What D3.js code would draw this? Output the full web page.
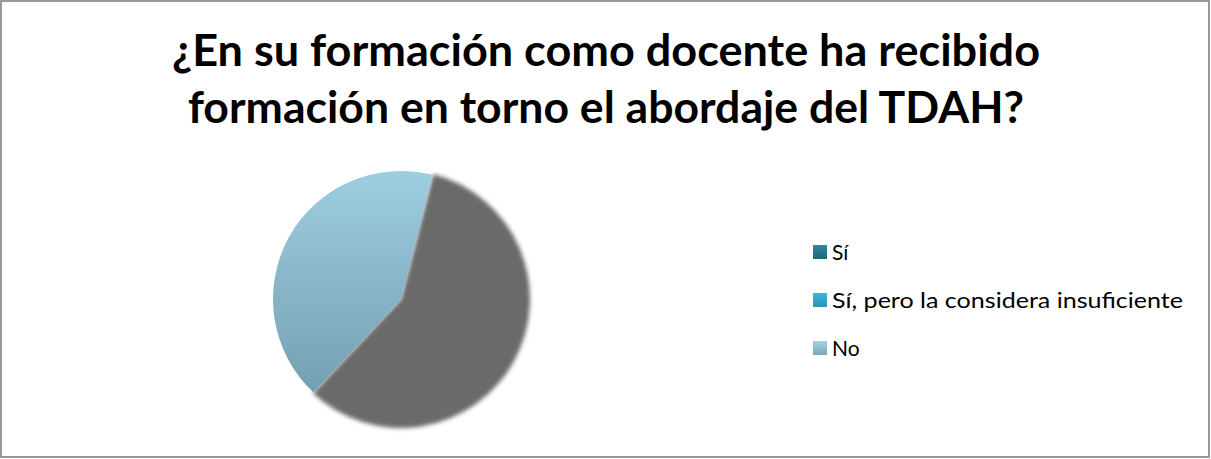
<!DOCTYPE html>
<html>
<head>
<meta charset="utf-8"/>
<title>TDAH formación</title>
<script src="https://d3js.org/d3.v7.min.js"></script>
<style>
  body { margin: 0; background: #fff; }
  text { font-family: Lato, "Open Sans", sans-serif; fill: #000; }
</style>
</head>
<body>
<svg width="1211" height="459"></svg>
<script>
// data
var titleLines = ["¿En su formación como docente ha recibido", "formación en torno el abordaje del TDAH?"];
var categories = ["Sí", "Sí, pero la considera insuficiente", "No"];
var values = [58, 0, 42];
var legendTop = ["#2f8aa1", "#3cb6d8", "#a3d2e3"];
var legendBottom = ["#1f6576", "#2a93b2", "#7ca6b8"];

var svg = d3.select("svg");
var defs = svg.append("defs");

// frame
svg.append("rect").attr("x", 1).attr("y", 1).attr("width", 1208).attr("height", 456)
  .attr("fill", "#fff").attr("stroke", "#9a9a9a").attr("stroke-width", 2);

// title, squeezed to the widths seen in the picture
var titleWidths = [868, 836];
svg.selectAll("text.title").data(titleLines).enter().append("text")
  .attr("class", "title")
  .attr("x", 606).attr("y", function(d, i) { return 66 + i * 57; })
  .attr("text-anchor", "middle")
  .attr("font-size", 43).attr("font-weight", "bold")
  .attr("textLength", function(d, i) { return titleWidths[i]; })
  .attr("lengthAdjust", "spacingAndGlyphs")
  .text(function(d) { return d; });

// gradients
categories.forEach(function(c, i) {
  var g = defs.append("linearGradient").attr("id", "lg" + i)
    .attr("x1", 0).attr("y1", 0).attr("x2", 0).attr("y2", 1);
  g.append("stop").attr("offset", "0%").attr("stop-color", legendTop[i]);
  g.append("stop").attr("offset", "100%").attr("stop-color", legendBottom[i]);
});
var pg = defs.append("linearGradient").attr("id", "noPie")
  .attr("gradientUnits", "userSpaceOnUse")
  .attr("x1", 0).attr("y1", -128).attr("x2", 0).attr("y2", 128);
pg.append("stop").attr("offset", "0%").attr("stop-color", "#9dcee0");
pg.append("stop").attr("offset", "100%").attr("stop-color", "#6f98a9");

var blur = defs.append("filter").attr("id", "soft")
  .attr("x", "-10%").attr("y", "-10%").attr("width", "120%").attr("height", "120%");
blur.append("feGaussianBlur").attr("stdDeviation", 2.2);

// pie
var cx = 401, cy = 299, r = 128;
var pie = d3.pie().sort(null)
  .startAngle(14.4 * Math.PI / 180)
  .endAngle(374.4 * Math.PI / 180);
var arcs = pie(values);
var arc = d3.arc().innerRadius(0).outerRadius(r);
var g = svg.append("g").attr("transform", "translate(" + cx + "," + cy + ")");

// grey slices drawn soft (shadowed look)
g.selectAll("path.grey").data(arcs.filter(function(d, i) { return i < 2 && d.value > 0; }))
  .enter().append("path").attr("class", "grey")
  .attr("d", d3.arc().innerRadius(0).outerRadius(r + 1))
  .attr("fill", "#6b6b6b")
  .attr("filter", "url(#soft)");
g.selectAll("path.no").data(arcs.filter(function(d, i) { return i === 2; }))
  .enter().append("path").attr("class", "no")
  .attr("d", arc)
  .attr("fill", "url(#noPie)");

// legend
var ly = d3.scalePoint().domain(categories).range([252, 348]);
var lg = svg.append("g");
lg.selectAll("rect").data(categories).enter().append("rect")
  .attr("x", 813).attr("y", function(d) { return ly(d) - 7; })
  .attr("width", 14).attr("height", 14)
  .attr("fill", function(d, i) { return "url(#lg" + i + ")"; });
var lt = lg.selectAll("text").data(categories).enter().append("text")
  .attr("x", 832).attr("y", function(d) { return ly(d); })
  .attr("dy", "0.36em")
  .attr("font-size", 21)
  .text(function(d) { return d; });
// long label squeezed to ~350px like the picture
lt.filter(function(d, i) { return i === 1; })
  .attr("textLength", 351).attr("lengthAdjust", "spacingAndGlyphs");
</script>
</body>
</html>
